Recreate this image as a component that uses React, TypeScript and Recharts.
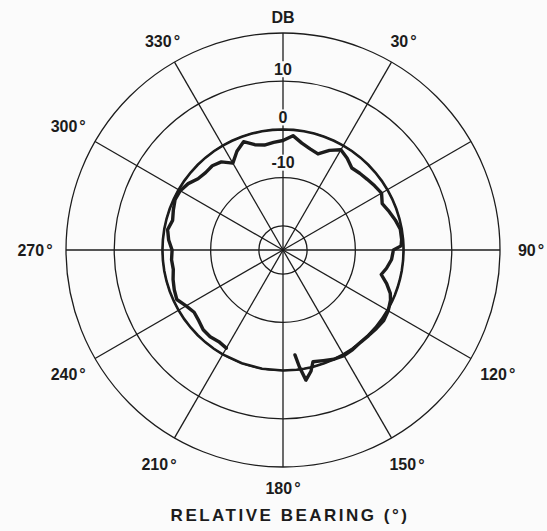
import { RadarChart, PolarGrid, PolarAngleAxis, PolarRadiusAxis, Radar } from 'recharts';

// relative bearing (deg) and measured level (dB); null = no trace drawn
const bearings = [
  0, 5, 10, 15, 20, 25, 30, 35, 40, 45, 50, 55, 60, 65, 70, 75, 80, 85, 88,
  90, 95, 100, 104, 108, 112, 115, 120, 125, 130, 135, 140, 145, 150, 155,
  160, 165, 167, 170, 172, 173.5, 180, 190, 200, 210, 215, 220, 225, 230,
  235, 240, 245, 250, 255, 260, 265, 270, 275, 280, 285, 290, 295, 300, 305,
  310, 315, 320, 325, 330, 335, 340, 345, 350, 355,
];
const levelDb: (number | null)[] = [
  -2.3, -1.2, -2.5, -3.3, -3.8, -2.2, -1.0, -1.8, -2.8, -2.5, -2.2, -1.8, -1.4, -2.3, -1.6, -0.9, -0.3, -0.3, -0.5,
  -2.1, -2.4, -3.2, -4.0, -2.4, -1.0, -0.4, 0.2, 0.5, 0.3, 0.1, 0.0, 0.2, 0.3, 0.0,
  -0.6, -1.0, 0.8, 2.4, -0.5, -3.1, null, null, null, -1.5, -1.8, -1.5, -1.6, -2.2,
  -2.5, -1.8, -0.7, -1.0, -1.4, -1.9, -1.8, -2.0, -1.2, -0.7, -1.3, -0.8, -0.3, -0.4, -1.0,
  -2.0, -2.3, -2.2, -2.7, -4.2, -2.4, -1.1, -2.4, -2.9, -2.6,
];
// 0 dB reference circle
const referenceDb = bearings.map(() => 0);

const bearingTicks = [0, 30, 60, 90, 120, 150, 180, 210, 240, 270, 300, 330];
const hiddenBearingLabels = [0, 60];
const levelTicks = [-20, -10, 0, 10, 20];

const data = bearings.map((b, i) => ({ bearing: b, level: levelDb[i], ref: referenceDb[i] }));

const CX = 283;
const CY = 250;
const OUTER = 217;
const INK = '#1c1c1c';
const BG = '#fbfbfb';
const FONT = '"Liberation Sans", Arial, sans-serif';

function BearingTick(props: any) {
  const { x, y, payload } = props;
  const deg = payload.value;
  if (hiddenBearingLabels.includes(deg)) return null;
  const dx = x - CX;
  const dy = y - CY;
  const len = Math.sqrt(dx * dx + dy * dy) || 1;
  const r = deg === 180 ? 238 : deg === 30 || deg === 330 ? 241 : 248;
  return (
    <text
      x={CX + (dx / len) * r}
      y={CY + (dy / len) * r}
      textAnchor="middle"
      dominantBaseline="central"
      fill={INK}
      fontFamily={FONT}
      fontWeight="bold"
      fontSize={16}
    >
      {deg}
      <tspan dx={2}>°</tspan>
    </text>
  );
}

function LevelTick(props: any) {
  const { x, y, payload } = props;
  const v = payload.value;
  if (v === -20) return null;
  const label = v === 20 ? 'DB' : String(v);
  const w = label.length * 9 + 4;
  const ty = y - (v === 20 ? 16 : v === -10 ? 15 : 12);
  return (
    <g>
      <rect x={x - w / 2} y={ty - 8} width={w} height={16} fill={BG} />
      <text
        x={x}
        y={ty}
        textAnchor="middle"
        dominantBaseline="central"
        fill={INK}
        fontFamily={FONT}
        fontWeight="bold"
        fontSize={16}
      >
        {label}
      </text>
    </g>
  );
}

// open trace: break the path where the level is missing
function TraceShape(props: any) {
  const pts: any[] = props.points || [];
  const ok = (p: any) => p && p.payload && p.payload.level != null && Number.isFinite(p.x);
  let start = pts.findIndex((p) => !ok(p));
  if (start < 0) start = 0;
  const order = pts.slice(start).concat(pts.slice(0, start));
  let d = '';
  let pen = false;
  order.forEach((p) => {
    if (!ok(p)) {
      pen = false;
      return;
    }
    d += `${pen ? 'L' : 'M'}${p.x},${p.y}`;
    pen = true;
  });
  return (
    <path
      d={d}
      fill="none"
      stroke={INK}
      strokeWidth={3.4}
      strokeLinejoin="round"
      strokeLinecap="round"
    />
  );
}

export default function App() {
  return (
    <div style={{ position: 'absolute', left: 0, top: 0, width: 547, height: 531, background: BG }}>
      <RadarChart
        width={547}
        height={531}
        cx={CX}
        cy={CY}
        outerRadius={OUTER}
        startAngle={90}
        endAngle={-270}
        data={data}
        margin={{ top: 0, right: 0, bottom: 0, left: 0 }}
      >
        <PolarGrid gridType="circle" stroke={INK} strokeWidth={1.3} strokeOpacity={1} />
        <PolarAngleAxis
          dataKey="bearing"
          type="number"
          domain={[0, 360]}
          ticks={bearingTicks}
          tick={BearingTick}
          tickLine={false}
          axisLine={false}
        />
        <PolarRadiusAxis
          angle={90}
          type="number"
          domain={[-25, 20]}
          ticks={levelTicks}
          tick={LevelTick}
          tickLine={false}
          axisLine={false}
        />
        <Radar
          dataKey="ref"
          stroke={INK}
          strokeWidth={2.6}
          fill="none"
          fillOpacity={0}
          dot={false}
          isAnimationActive={false}
        />
        <Radar
          dataKey="level"
          shape={TraceShape}
          stroke={INK}
          fill="none"
          dot={false}
          isAnimationActive={false}
        />
      </RadarChart>
      <div
        style={{
          position: 'absolute',
          left: 0,
          width: 580,
          top: 506,
          textAlign: 'center',
          fontFamily: FONT,
          fontWeight: 'bold',
          fontSize: 17,
          letterSpacing: 2.5,
          color: INK,
        }}
      >
        RELATIVE BEARING (°)
      </div>
    </div>
  );
}
